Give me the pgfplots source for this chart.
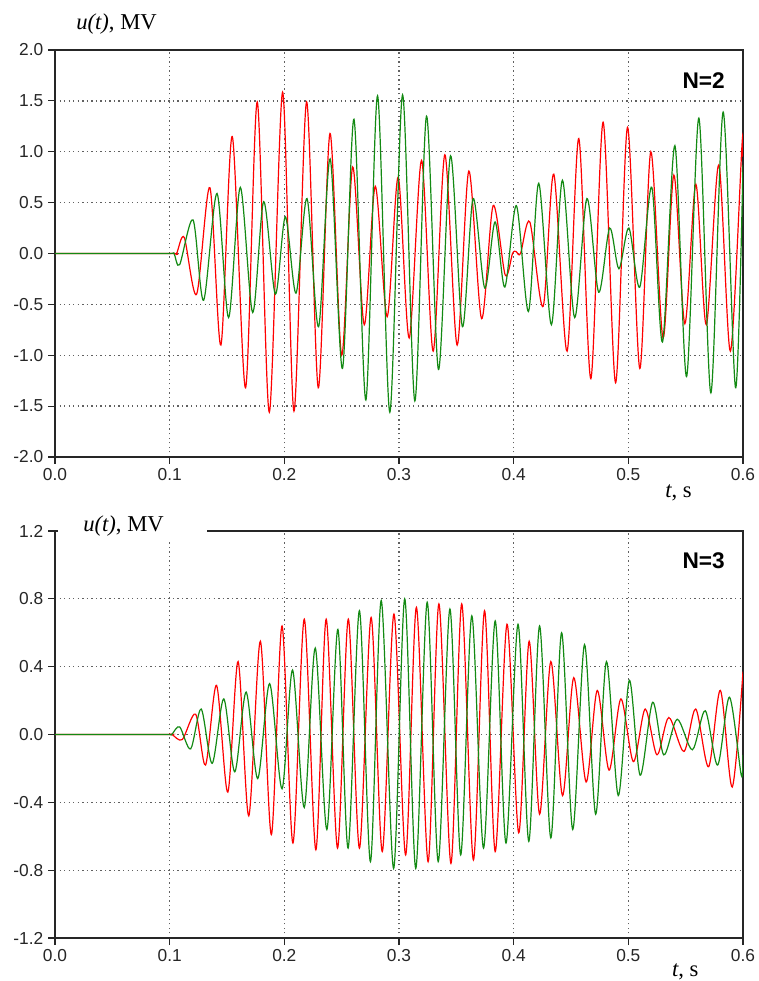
\documentclass[border=0pt]{standalone}
\usepackage{fontspec}
\setmainfont{Liberation Serif}
\setsansfont{Liberation Sans}
\usepackage{pgfplots}
\pgfplotsset{compat=1.18}
\definecolor{sigred}{HTML}{FF0000}
\definecolor{siggreen}{HTML}{138A13}

\pgfplotsset{
  wave/.style={
    scale only axis, width=516pt, height=305.25pt,
    xmin=0, xmax=0.6, xtick={0,0.1,0.2,0.3,0.4,0.5,0.6},
    grid=major, grid style={line width=1pt, dash pattern=on 1pt off 2.4pt, black!62},
    axis line style={black!85, line width=0.9pt},
    tick align=outside, tick pos=left,
    major tick length=5.25pt,
    tick style={black!85, line width=0.8pt},
    tick label style={font=\sffamily\fontsize{13}{15}\selectfont, text=black!85},
    /pgf/number format/.cd, fixed, fixed zerofill, precision=1, assume math mode=true,
  },
  red/.style={sigred, line width=0.9pt, smooth},
  grn/.style={siggreen, line width=0.9pt, smooth},
}

\begin{document}
\begin{tikzpicture}
% ---------- N=2 ----------
\begin{axis}[wave, at={(41.25pt,393pt)}, anchor=south west,
  ymin=-2, ymax=2, ytick={-2,-1.5,-1,-0.5,0,0.5,1,1.5,2}]
\addplot[red] coordinates {
(0,0) (0.050,0) (0.102,0) (0.106,0) (0.1127,0.157) (0.1235,-0.40) (0.1351,0.647) (0.1447,-0.90)
(0.1546,1.15) (0.1662,-1.32) (0.1764,1.49) (0.1869,-1.56) (0.1985,1.585)
(0.2084,-1.55) (0.2194,1.49) (0.2296,-1.32) (0.2398,1.18) (0.2500,-1.00)
(0.2596,0.85) (0.2697,-0.70) (0.2793,0.66) (0.2897,-0.62) (0.2993,0.75)
(0.3089,-0.83) (0.3197,0.915) (0.3298,-0.96) (0.3400,0.97) (0.3507,-0.90)
(0.3609,0.81) (0.3720,-0.64) (0.3821,0.47) (0.3926,-0.21) (0.3990,0.00)
(0.4020,0.02) (0.4060,0.00) (0.4141,0.31) (0.4257,-0.52) (0.4350,0.78)
(0.4466,-0.96) (0.4568,1.13) (0.4673,-1.23) (0.4780,1.29) (0.4889,-1.27)
(0.4993,1.24) (0.5100,-1.13) (0.5196,1.00) (0.5303,-0.83) (0.5397,0.77)
(0.5493,-0.69) (0.5589,0.68) (0.5680,-0.70) (0.5789,0.87) (0.5890,-0.96)
(0.5992,1.08) (0.6000,0.95)
};
\addplot[grn] coordinates {
(0,0) (0.050,0) (0.099,0) (0.1037,0) (0.1087,-0.11) (0.1204,0.33) (0.1296,-0.46) (0.1413,0.59)
(0.1514,-0.63) (0.1616,0.65) (0.1724,-0.58) (0.1820,0.51) (0.1922,-0.40)
(0.2009,0.36) (0.2102,-0.39) (0.2198,0.54) (0.2299,-0.72) (0.2400,0.93)
(0.2507,-1.13) (0.2607,1.32) (0.2711,-1.44) (0.2813,1.55) (0.2920,-1.56)
(0.3031,1.56) (0.3138,-1.45) (0.3240,1.35) (0.3344,-1.14) (0.3449,0.96)
(0.3553,-0.72) (0.3646,0.54) (0.3748,-0.34) (0.3838,0.31) (0.3923,-0.33)
(0.4024,0.47) (0.4129,-0.57) (0.4219,0.69) (0.4329,-0.70) (0.4425,0.72)
(0.4532,-0.63) (0.4639,0.54) (0.4741,-0.38) (0.4837,0.25) (0.4918,-0.15)
(0.5005,0.25) (0.5100,-0.33) (0.5205,0.65) (0.5298,-0.87) (0.5406,1.06)
(0.5508,-1.21) (0.5615,1.33) (0.5720,-1.37) (0.5827,1.39) (0.5935,-1.32)
(0.6000,0.87)
};
\end{axis}
% ---------- N=3 ----------
\begin{axis}[wave, at={(41.25pt,32.25pt)}, anchor=south west,
  ymin=-1.2, ymax=1.2, ytick={-1.2,-0.8,-0.4,0,0.4,0.8,1.2}]
\addplot[red] coordinates {
(0,0) (0.050,0) (0.098,0) (0.102,0) (0.1110,-0.03) (0.1226,0.12) (0.1313,-0.18) (0.1409,0.29)
(0.1507,-0.34) (0.1597,0.43) (0.1690,-0.48) (0.1791,0.55) (0.1887,-0.59)
(0.1980,0.64) (0.2075,-0.64) (0.2174,0.68) (0.2275,-0.68) (0.2365,0.68)
(0.2464,-0.67) (0.2558,0.68) (0.2655,-0.67) (0.2757,0.69) (0.2854,-0.69)
(0.2956,0.71) (0.3058,-0.71) (0.3152,0.75) (0.3254,-0.75) (0.3348,0.77)
(0.3453,-0.76) (0.3547,0.77) (0.3649,-0.74) (0.3746,0.73) (0.3839,-0.69)
(0.3942,0.65) (0.4044,-0.58) (0.4135,0.55) (0.4226,-0.47) (0.4324,0.43)
(0.4426,-0.36) (0.4524,0.335) (0.4632,-0.28) (0.4729,0.26) (0.4832,-0.21)
(0.4935,0.21) (0.5044,-0.16) (0.5147,0.15) (0.5250,-0.12) (0.5353,0.10)
(0.5485,-0.10) (0.5588,0.15) (0.5700,-0.19) (0.5803,0.26) (0.5906,-0.31)
(0.6000,0.37)
};
\addplot[grn] coordinates {
(0,0) (0.050,0) (0.097,0) (0.1017,0) (0.1087,0.045) (0.1183,-0.085) (0.1275,0.15) (0.1371,-0.17)
(0.1472,0.21) (0.1568,-0.22) (0.1667,0.25) (0.1768,-0.26) (0.1872,0.30)
(0.1980,-0.32) (0.2072,0.38) (0.2174,-0.43) (0.2270,0.51) (0.2371,-0.56)
(0.2467,0.62) (0.2556,-0.67) (0.2655,0.73) (0.2751,-0.75) (0.2845,0.79)
(0.2953,-0.79) (0.3050,0.80) (0.3146,-0.79) (0.3246,0.78) (0.3342,-0.75)
(0.3444,0.74) (0.3538,-0.71) (0.3635,0.70) (0.3737,-0.67) (0.3839,0.67)
(0.3933,-0.64) (0.4038,0.65) (0.4132,-0.63) (0.4226,0.64) (0.4324,-0.61)
(0.4418,0.60) (0.4515,-0.56) (0.4618,0.53) (0.4715,-0.47) (0.4809,0.43)
(0.4912,-0.36) (0.5009,0.32) (0.5103,-0.24) (0.5212,0.19) (0.5309,-0.12)
(0.5426,0.09) (0.5559,-0.09) (0.5671,0.14) (0.5779,-0.18) (0.5882,0.22)
(0.5985,-0.24) (0.6000,-0.12)
};
\end{axis}
% labels
\node[anchor=base west, font=\fontsize{17}{20}\selectfont, inner sep=0pt] at (57pt,713.25pt) {\textit{u(t)}, MV};
\node[anchor=base west, font=\fontsize{17}{20}\selectfont, inner sep=0pt] at (498.75pt,362.8pt) {\textit{t}, s};
\fill[white] (43.5pt,330.75pt) rectangle (155.25pt,349.5pt);
\node[anchor=base west, font=\fontsize{17}{20}\selectfont, inner sep=0pt] at (62.25pt,336.75pt) {\textit{u(t)}, MV};
\node[anchor=base west, font=\fontsize{17}{20}\selectfont, inner sep=0pt] at (503.8pt,3.2pt) {\textit{t}, s};
\node[anchor=base east, font=\sffamily\bfseries\fontsize{17}{20}\selectfont, inner sep=0pt] at (543.75pt,669pt) {N=2};
\node[anchor=base east, font=\sffamily\bfseries\fontsize{17}{20}\selectfont, inner sep=0pt] at (543.75pt,309pt) {N=3};
\pgfresetboundingbox
\path[use as bounding box] (0,0) rectangle (568.5pt,735.75pt);
\end{tikzpicture}
\end{document}
